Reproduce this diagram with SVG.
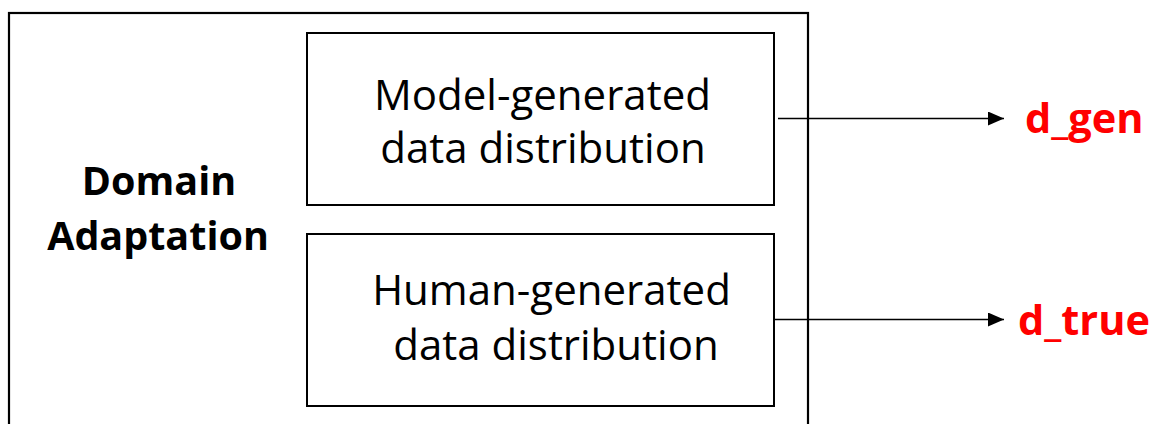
<svg xmlns="http://www.w3.org/2000/svg" width="1152" height="424" viewBox="0 0 1152 424">
  <style>
    text { font-family: "Open Sans", Lato, "Liberation Sans", sans-serif; font-variant-ligatures: none; }
    .box { fill: #ffffff; stroke: #000000; stroke-width: 2; }
    .frame { fill: none; stroke: #000000; stroke-width: 2.2; }
    .body { font-size: 42px; fill: #000000; text-anchor: middle; }
    .title { font-size: 39.5px; font-weight: bold; fill: #000000; text-anchor: middle; }
    .label { font-size: 41.5px; font-weight: bold; fill: #ff0000; }
    .link { fill: none; stroke: #000000; stroke-width: 1.3; }
  </style>
  <defs>
    <marker id="head" viewBox="0 0 16 14" refX="16" refY="7" markerWidth="16" markerHeight="14" markerUnits="userSpaceOnUse" orient="auto">
      <path d="M0,0 L16,7 L0,14 Z" fill="#000000"/>
    </marker>
  </defs>
  <rect width="1152" height="424" fill="#ffffff"/>

  <!-- outer container, its bottom edge runs past the canvas -->
  <g id="domain-adaptation">
    <rect class="frame" x="9" y="13" width="799" height="430"/>
    <text class="title" x="159" y="195">Domain</text>
    <text class="title" x="158" y="250">Adaptation</text>
  </g>

  <g id="model-generated">
    <rect class="box" x="307" y="33" width="467" height="172"/>
    <text class="body" x="542.5" y="110">Model-generated</text>
    <text class="body" x="543" y="163">data distribution</text>
  </g>

  <g id="human-generated">
    <rect class="box" x="307" y="234" width="467" height="172"/>
    <text class="body" x="551.5" y="305">Human-generated</text>
    <text class="body" x="556" y="360">data distribution</text>
  </g>

  <!-- connectors -->
  <g id="connectors">
    <line class="link" x1="778" y1="118.5" x2="1004" y2="118.5" marker-end="url(#head)"/>
    <line class="link" x1="775" y1="319.5" x2="1004" y2="319.5" marker-end="url(#head)"/>
  </g>

  <g id="d-gen">
    <text class="label" x="1025" y="133">d_gen</text>
  </g>
  <g id="d-true">
    <text class="label" x="1018" y="335">d_true</text>
  </g>
</svg>
